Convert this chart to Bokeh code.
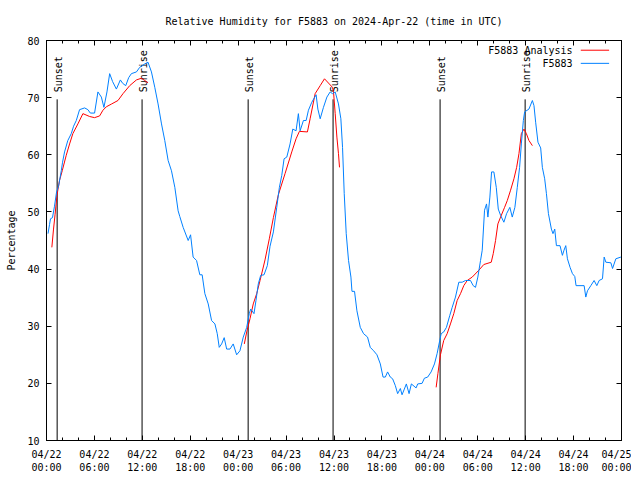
from datetime import datetime, timedelta

from bokeh.core.properties import value
from bokeh.embed import file_html
from bokeh.models import (ColumnDataSource, CustomJSTickFormatter, DatetimeTickFormatter,
                          FixedTicker, LinearAxis, Range1d)
from bokeh.plotting import figure
from bokeh.resources import INLINE

# ---------------- data ----------------
BASE = datetime(2024, 4, 22, 0, 0)
END = datetime(2024, 4, 25, 0, 0)

TITLE = "Relative Humidity for F5883 on 2024-Apr-22 (time in UTC)"
Y_LABEL = "Percentage"
SERIES_NAMES = ["F5883 Analysis", "F5883"]

# observations (hours since 2024-04-22 00:00 UTC, RH %)
obs_hours = [0.19, 0.38, 0.50, 0.75, 1.00, 1.26, 1.51, 1.85, 2.01, 2.26, 2.67, 3.10, 3.39, 3.73,
             4.14, 4.77, 5.18, 5.49, 6.02, 6.44, 6.87, 7.19, 7.57, 7.91, 8.28, 8.75, 9.25, 9.54,
             9.92, 10.29, 10.63, 11.26, 11.67, 12.30, 12.71, 13.14, 13.56, 13.97, 14.40, 14.81,
             15.23, 15.65, 16.07, 16.48, 16.69, 17.11, 17.74, 18.04, 18.36, 18.79, 19.20, 19.49,
             19.83, 20.25, 20.67, 21.09, 21.38, 21.63, 21.93, 22.25, 22.56, 22.97, 23.38, 23.81,
             24.22, 24.64, 25.07, 25.39, 25.57, 25.98, 26.23, 26.52, 26.82, 27.24, 27.65, 27.99,
             28.41, 28.83, 29.16, 29.46, 29.75, 30.09, 30.50, 30.84, 31.25, 31.54, 31.76, 32.17,
             32.51, 32.80, 33.22, 33.76, 33.98, 34.27, 34.68, 35.11, 35.52, 35.81, 36.15, 36.56,
             36.86, 37.07, 37.28, 37.53, 37.82, 38.12, 38.25, 38.57, 38.87, 39.29, 39.70, 40.20,
             40.54, 40.96, 41.38, 41.80, 42.14, 42.43, 42.71, 43.05, 43.34, 43.68, 43.97, 44.31,
             44.52, 44.81, 45.06, 45.40, 45.69, 46.28, 46.48, 47.03, 47.32, 47.73, 48.16, 48.58,
             48.91, 49.24, 49.42, 49.74, 50.08, 50.50, 50.80, 51.21, 51.63, 52.05, 52.47, 53.09,
             53.43, 53.72, 54.01, 54.35, 54.56, 54.85, 55.10, 55.27, 55.52, 55.73, 56.02, 56.32,
             56.57, 56.86, 57.27, 57.61, 58.02, 58.32, 58.65, 58.95, 59.24, 59.46, 59.71, 59.87,
             60.41, 60.84, 61.04, 61.25, 61.54, 61.88, 62.09, 62.38, 62.60, 62.85, 63.22, 63.42,
             63.64, 63.85, 64.30, 64.60, 64.80, 65.02, 65.23, 65.56, 65.86, 66.15, 66.31, 67.32,
             67.53, 67.74, 68.16, 68.57, 68.91, 69.20, 69.62, 69.83, 70.04, 70.67, 70.88, 71.29,
             71.92]
obs_rh = [46.2, 47.8, 48.8, 49.0, 51.0, 53.5, 54.5, 57.2, 58.7, 60.5, 62.5, 63.7, 65.0, 66.0,
          67.9, 68.2, 67.9, 67.3, 67.3, 71.0, 70.1, 68.3, 71.0, 74.2, 72.8, 71.5, 73.1, 72.5,
          72.1, 73.5, 74.2, 74.5, 75.3, 75.9, 76.2, 74.5, 71.8, 68.9, 65.4, 62.5,
          59.0, 57.2, 54.3, 50.2, 49.2, 47.3, 45.0, 46.0, 42.1, 41.5, 39.0, 39.0,
          35.7, 33.9, 31.0, 30.4, 28.7, 26.3, 26.9, 28.0, 26.0, 26.0, 26.9, 25.0,
          25.7, 28.1, 29.8, 32.2, 33.0, 32.2, 34.5, 37.4, 38.9, 39.0, 40.6, 44.0,
          46.5, 50.8, 54.3, 56.4, 59.3, 59.6, 61.9, 64.5, 64.2, 67.2, 64.2, 66.0,
          66.0, 67.8, 69.2, 70.5, 68.0, 66.3, 68.3, 70.1, 71.0, 70.7, 71.0, 68.9,
          66.3, 61.3, 53.2, 46.2, 41.5, 38.6, 36.1, 36.1, 32.7, 29.8, 28.7, 28.1,
          26.3, 25.7, 25.0, 23.4, 21.1, 21.1, 22.0, 21.1, 20.8, 19.6, 18.2, 19.1,
          18.0, 19.0, 19.9, 18.2, 19.9, 19.2, 19.9, 20.0, 20.9, 21.1, 22.0, 23.4,
          25.2, 27.5, 28.7, 29.0, 29.8, 31.9, 33.3, 35.1, 37.7, 37.7, 38.0, 38.0,
          37.1, 36.8, 38.6, 41.5, 43.3, 50.3, 51.4, 49.1, 52.6, 57.0, 57.0, 54.3,
          50.5, 49.4, 48.2, 49.7, 50.8, 49.1, 50.8, 54.3, 57.8, 61.9, 66.0, 67.5,
          68.0, 69.5, 68.6, 65.7, 62.2, 61.2, 57.8, 55.8, 53.2, 49.7, 47.0, 46.2,
          47.0, 44.1, 44.1, 42.4, 43.3, 44.1, 41.8, 40.3, 39.2, 38.7, 37.1, 37.1,
          35.1, 36.2, 37.1, 38.0, 37.1, 38.0, 38.3, 42.1, 41.2, 41.1, 40.1, 41.8,
          42.1]

# analysis, three separate runs
ana1_hours = [0.67, 0.88, 1.07, 1.32, 1.63, 1.97, 2.47, 2.89, 3.30, 3.93, 4.56, 5.40, 6.02,
              6.65, 7.07, 7.49, 8.16, 8.95, 9.58, 10.42, 11.26, 11.89, 12.30, 12.71]
ana1_rh = [43.8, 47.0, 49.5, 53.0, 55.5, 57.2, 59.9, 61.9, 63.7, 65.4, 67.2, 66.7, 66.5,
           66.8, 67.8, 68.4, 68.9, 69.5, 70.7, 72.1, 73.1, 73.4, 73.0, 72.6]
ana2_hours = [24.77, 25.07, 25.48, 25.89, 26.32, 26.74, 27.36, 27.90, 28.41, 29.03, 29.87,
              30.71, 31.25, 31.67, 32.67, 33.01, 33.64, 34.27, 34.81, 35.81, 35.94, 36.15,
              36.36, 36.56, 36.69]
ana2_rh = [26.9, 29.0, 31.3, 33.9, 35.7, 38.0, 41.6, 45.3, 49.0, 53.0, 56.7,
           60.5, 62.8, 64.1, 64.0, 66.3, 70.7, 72.1, 73.3, 71.8, 71.0, 67.2,
           63.1, 60.2, 57.8]
ana3_hours = [48.79, 49.01, 49.33, 49.74, 50.17, 50.58, 51.00, 51.42, 51.84, 52.25, 52.68,
              53.31, 54.14, 54.76, 55.69, 55.94, 56.23, 56.52, 56.86, 57.36, 57.70, 58.11,
              58.53, 58.87, 59.16, 59.46, 59.79, 60.09, 60.41, 60.84]
ana3_rh = [19.3, 21.7, 25.0, 27.5, 28.7, 30.4, 32.2, 34.5, 35.7, 37.1, 38.0,
           38.6, 39.8, 40.8, 41.2, 42.7, 45.0, 47.9, 49.1, 50.8, 52.0, 53.8,
           55.8, 57.8, 60.2, 63.7, 64.5, 63.7, 62.5, 61.6]

sun_labels = ["Sunset", "Sunrise", "Sunset", "Sunrise", "Sunset", "Sunrise"]
sun_times = ["2024-04-22 01:20", "2024-04-22 11:58", "2024-04-23 01:15",
             "2024-04-23 11:53", "2024-04-24 01:17", "2024-04-24 11:56"]
SUN_LINE_TOP = 69.7

y_ticks = [10, 20, 30, 40, 50, 60, 70, 80]
MAJOR_STEP_H = 6
MINOR_STEP_H = 2

# ---------------- helpers ----------------
EPOCH = datetime(1970, 1, 1)


def to_dt(h):
    return BASE + timedelta(hours=h)


def ms(dt):
    return (dt - EPOCH).total_seconds() * 1000.0


FONT = "DejaVu Sans Mono"
FS = "10px"
BLUE = "#0080ff"
RED = "#ff0000"

total_h = int((END - BASE).total_seconds() // 3600)
major_ms = [ms(to_dt(h)) for h in range(0, total_h + 1, MAJOR_STEP_H)]
minor_ms = [ms(to_dt(h)) for h in range(0, total_h + 1, MINOR_STEP_H)]

p = figure(x_axis_type="datetime",
           x_range=Range1d(BASE, END), y_range=Range1d(10, 80),
           frame_width=575, frame_height=400,
           min_border_left=46, min_border_right=10, min_border_top=40, min_border_bottom=24,
           output_backend="svg", toolbar_location=None, title=TITLE)

p.background_fill_color = "white"
p.border_fill_color = "white"
p.outline_line_color = "black"
p.outline_line_width = 1
p.xgrid.visible = False
p.ygrid.visible = False

p.title.text_font = FONT
p.title.text_font_size = FS
p.title.text_font_style = "normal"
p.title.text_color = "black"
p.title.align = "center"
p.title.standoff = 27


def style_axis(ax):
    ax.major_tick_in = 5
    ax.major_tick_out = 0
    ax.minor_tick_in = 3
    ax.minor_tick_out = 0
    ax.axis_line_color = "black"
    ax.major_tick_line_color = "black"
    ax.minor_tick_line_color = "black"
    ax.major_label_text_font = FONT
    ax.major_label_text_font_size = FS
    ax.major_label_text_color = "black"


# bottom axis
xa = p.xaxis[0]
style_axis(xa)
xa.ticker = FixedTicker(ticks=major_ms, minor_ticks=minor_ms)
fmt = "%m/%d\n%H:%M"
xa.formatter = DatetimeTickFormatter(hours=fmt, days=fmt, hourmin=fmt, minutes=fmt,
                                     months=fmt, years=fmt, milliseconds=fmt, seconds=fmt,
                                     minsec=fmt)
xa.major_label_standoff = 8

# left axis
ya = p.yaxis[0]
style_axis(ya)
ya.ticker = FixedTicker(ticks=y_ticks, minor_ticks=[])
ya.major_label_standoff = 7
ya.axis_label = Y_LABEL
ya.axis_label_text_font = FONT
ya.axis_label_text_font_size = FS
ya.axis_label_text_font_style = "normal"
ya.axis_label_text_color = "black"
ya.axis_label_standoff = 7

blank = CustomJSTickFormatter(code="return '';")
top = LinearAxis(ticker=FixedTicker(ticks=major_ms, minor_ticks=minor_ms), formatter=blank)
style_axis(top)
top.major_label_standoff = 0
p.add_layout(top, "above")

right = LinearAxis(ticker=FixedTicker(ticks=y_ticks, minor_ticks=[]), formatter=blank)
style_axis(right)
right.major_label_standoff = 0
p.add_layout(right, "right")

# sunrise / sunset markers
sun_dt = [datetime.strptime(s, "%Y-%m-%d %H:%M") for s in sun_times]
sun_src = ColumnDataSource(dict(x=sun_dt, y0=[y_ticks[0]] * len(sun_dt),
                                y1=[SUN_LINE_TOP] * len(sun_dt), label=sun_labels))
p.segment(x0="x", y0="y0", x1="x", y1="y1", source=sun_src, line_color="black", line_width=1)
p.text(x="x", y="y1", text="label", source=sun_src, angle=1.5707963, y_offset=-7, x_offset=1.5,
       text_align="left", text_baseline="middle", text_font=value(FONT),
       text_font_size=FS, text_color="black")

# series
p.line([to_dt(h) for h in ana1_hours], ana1_rh, line_color=RED, line_width=1)
p.line([to_dt(h) for h in ana2_hours], ana2_rh, line_color=RED, line_width=1)
p.line([to_dt(h) for h in ana3_hours], ana3_rh, line_color=RED, line_width=1)
p.line([to_dt(h) for h in obs_hours], obs_rh, line_color=BLUE, line_width=1)

# legend (text right-aligned, sample line to its right, gnuplot style)
leg_text_x = to_dt(65.87)
leg_line_x0 = to_dt(66.9)
leg_line_x1 = to_dt(70.45)
leg_y = [78.3, 76.0]
p.text(x=[leg_text_x] * 2, y=leg_y, text=SERIES_NAMES, text_align="right",
       text_baseline="middle", text_font=value(FONT), text_font_size=FS, text_color="black")
p.segment(x0=[leg_line_x0] * 2, y0=leg_y, x1=[leg_line_x1] * 2, y1=leg_y,
          line_color=[RED, BLUE], line_width=1)

open("out.html", "w").write(file_html(p, INLINE))
